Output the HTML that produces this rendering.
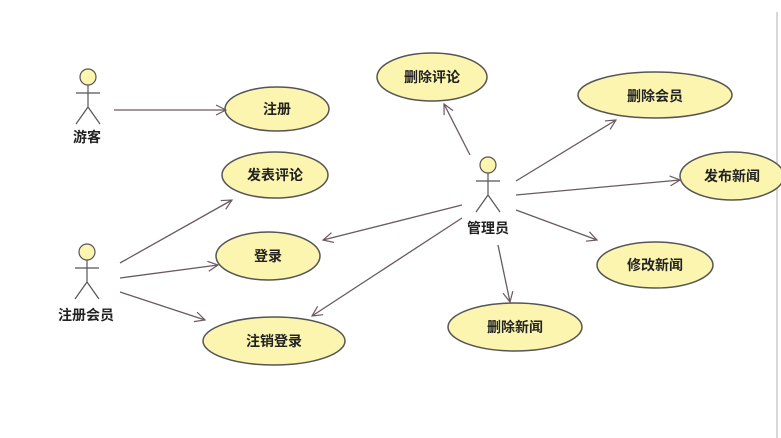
<!DOCTYPE html>
<html><head><meta charset="utf-8"><style>
html,body{margin:0;padding:0;background:#fff;}
svg{display:block;}
text{font-family:"Liberation Sans","Noto Sans CJK SC",sans-serif;font-weight:bold;font-size:14px;fill:#222;}
</style></head><body>
<svg width="781" height="438" viewBox="0 0 781 438" xmlns="http://www.w3.org/2000/svg">
<defs>
<marker id="a" markerWidth="12" markerHeight="12" refX="11" refY="6" orient="auto" markerUnits="userSpaceOnUse">
<path d="M1,1 L11,6 L1,11" fill="none" stroke="#6a5a60" stroke-width="1.2"/>
</marker>
</defs>
<line x1="777" y1="12" x2="777" y2="438" stroke="#ccc" stroke-width="1.5"/>
<g fill="#fbf5b0" stroke="#555" stroke-width="1.5">
<ellipse cx="277" cy="109" rx="52" ry="22"/>
<ellipse cx="275" cy="175" rx="53" ry="23"/>
<ellipse cx="268" cy="256" rx="52" ry="24"/>
<ellipse cx="274" cy="341" rx="71" ry="24"/>
<ellipse cx="432" cy="77" rx="55" ry="24"/>
<ellipse cx="655" cy="95" rx="77" ry="23"/>
<ellipse cx="732" cy="176" rx="52" ry="24"/>
<ellipse cx="655" cy="265" rx="58" ry="23"/>
<ellipse cx="515" cy="327" rx="67" ry="24"/>
</g>
<g stroke="#6a5a60" stroke-width="1.3" marker-end="url(#a)">
<line x1="114" y1="110" x2="226" y2="110"/>
<line x1="120" y1="263" x2="232" y2="200"/>
<line x1="120" y1="278" x2="218" y2="265"/>
<line x1="120" y1="292" x2="205" y2="320"/>
<line x1="462" y1="205" x2="323" y2="240"/>
<line x1="462" y1="218" x2="312" y2="316"/>
<line x1="470" y1="155" x2="444" y2="104"/>
<line x1="516" y1="181" x2="616" y2="120"/>
<line x1="516" y1="195" x2="680" y2="180"/>
<line x1="516" y1="210" x2="597" y2="240"/>
<line x1="498" y1="245" x2="510" y2="302"/>
</g>
<g stroke="#555" stroke-width="1.2" fill="none">
<circle cx="88" cy="77" r="8" fill="#fbf5b0"/>
<path d="M88,85 V107 M76,93 H100 M88,107 L76,124 M88,107 L100,124"/>
<circle cx="87" cy="252" r="8" fill="#fbf5b0"/>
<path d="M87,260 V282 M75,268 H99 M87,282 L75,299 M87,282 L99,299"/>
<circle cx="488" cy="165" r="8" fill="#fbf5b0"/>
<path d="M488,173 V195 M476,181 H500 M488,195 L476,212 M488,195 L500,212"/>
</g>
<g text-anchor="middle" dominant-baseline="central">
<text x="87" y="137">游客</text>
<text x="86" y="315">注册会员</text>
<text x="488" y="228">管理员</text>
<text x="277" y="109">注册</text>
<text x="275" y="175">发表评论</text>
<text x="268" y="256">登录</text>
<text x="274" y="341">注销登录</text>
<text x="432" y="77">删除评论</text>
<text x="655" y="96">删除会员</text>
<text x="732" y="176">发布新闻</text>
<text x="655" y="265">修改新闻</text>
<text x="515" y="327">删除新闻</text>
</g>
</svg>
</body></html>
